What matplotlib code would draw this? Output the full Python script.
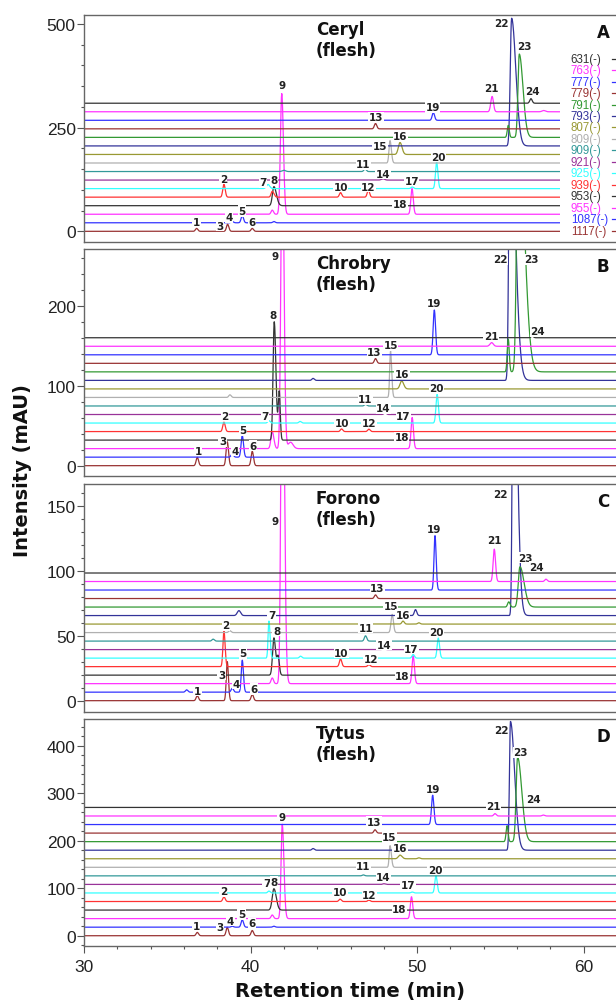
import numpy as np
import matplotlib.pyplot as plt
from matplotlib.ticker import MultipleLocator
from matplotlib.patches import Rectangle

# m/z traces, bottom to top
mz = ['1117', '1087', '955', '953', '939', '925', '921', '909',
      '809', '807', '793', '791', '779', '777', '763', '631']
colors = {'1117': '#993333', '1087': '#3333ff', '955': '#ff33ff', '953': '#333333',
          '939': '#ff3333', '925': '#33ffff', '921': '#993399', '909': '#339999',
          '809': '#b0b0b0', '807': '#999933', '793': '#333399', '791': '#339933',
          '779': '#993333', '777': '#3333ff', '763': '#ff33ff', '631': '#333333'}

cultivars = ['Ceryl', 'Chrobry', 'Forono', 'Tytus']
panel_tags = ['A', 'B', 'C', 'D']
offsets = [20.6, 10.67, 6.55, 18.0]   # vertical stacking step (mAU)

# peaks: (trace, retention time, height, sigma left, sigma right)
peaks_A = [
    ('1117', 36.76, 7), ('1117', 38.62, 17), ('1117', 40.1, 7),
    ('1087', 38.9, 3), ('1087', 39.5, 17), ('1087', 41.4, 3),
    ('955', 41.3, 10), ('955', 41.87, 291, 0.08, 0.1), ('955', 49.69, 62),
    ('953', 41.4, 46, 0.09, 0.15),
    ('939', 38.4, 31), ('939', 41.3, 14, 0.07, 0.1), ('939', 45.4, 11), ('939', 47.07, 17),
    ('925', 41.05, 10, 0.1, 0.1), ('925', 49.7, 4), ('925', 51.17, 64),
    ('921', 47.95, 3, 0.1, 0.1),
    ('909', 46.87, 6), ('909', 42.0, 3, 0.1, 0.1),
    ('809', 48.37, 54, 0.06, 0.08),
    ('807', 48.97, 29, 0.1, 0.12),
    ('793', 55.67, 308, 0.08, 0.25),
    ('791', 55.47, 29, 0.06, 0.06), ('791', 56.13, 201, 0.08, 0.22),
    ('779', 47.5, 13),
    ('777', 50.97, 18.5),
    ('763', 54.5, 37, 0.08, 0.08), ('763', 57.6, 3, 0.1, 0.1),
    ('631', 56.83, 11),
]
peaks_B = [
    ('1117', 36.8, 10.4), ('1117', 38.6, 30), ('1117', 40.1, 18),
    ('1087', 38.9, 4), ('1087', 39.5, 27),
    ('955', 41.3, 21, 0.08, 0.1), ('955', 41.9, 400, 0.08, 0.1), ('955', 42.4, 8, 0.15, 0.15),
    ('955', 49.7, 39),
    ('953', 41.42, 148, 0.07, 0.1), ('953', 41.72, 60, 0.06, 0.06),
    ('939', 38.4, 11.7), ('939', 45.46, 3.3), ('939', 47.1, 3),
    ('925', 41.1, 3), ('925', 42.97, 2), ('925', 51.2, 36),
    ('921', 48.07, 2),
    ('909', 46.9, 2),
    ('809', 38.76, 3.3), ('809', 48.4, 58, 0.05, 0.07),
    ('807', 49.07, 10, 0.1, 0.12),
    ('793', 43.75, 2.5), ('793', 55.57, 350, 0.07, 0.3),
    ('791', 55.47, 41, 0.06, 0.06), ('791', 56.07, 320, 0.1, 0.35),
    ('779', 47.5, 6),
    ('777', 51.03, 56),
    ('763', 54.47, 4.6, 0.1, 0.1),
    ('631', 56.9, 2),
]
peaks_C = [
    ('1117', 36.8, 3.8), ('1117', 38.6, 30, 0.06, 0.07), ('1117', 40.1, 4.9),
    ('1087', 36.16, 1.8), ('1087', 38.9, 3), ('1087', 39.5, 24.6, 0.06, 0.07),
    ('955', 41.3, 4.4), ('955', 41.9, 300, 0.08, 0.12), ('955', 49.76, 21.5),
    ('953', 41.4, 28.7, 0.08, 0.1), ('953', 41.65, 14),
    ('939', 38.4, 27.4, 0.06, 0.07), ('939', 45.4, 5.9), ('939', 47.1, 1.5),
    ('925', 41.1, 28.5, 0.05, 0.07), ('925', 43.0, 1.5), ('925', 49.76, 2.8), ('925', 51.27, 15.4),
    ('921', 48.0, 1),
    ('909', 37.75, 1.5), ('909', 46.9, 4.1),
    ('809', 38.75, 1.5), ('809', 48.5, 14),
    ('807', 49.15, 2.3), ('807', 50.1, 1),
    ('793', 39.3, 3.8, 0.1, 0.1), ('793', 49.9, 4.6), ('793', 55.77, 250, 0.06, 0.22),
    ('791', 55.5, 4), ('791', 56.17, 31, 0.1, 0.25),
    ('779', 47.5, 2.8),
    ('777', 51.07, 41.8, 0.06, 0.07),
    ('763', 54.63, 24.9), ('763', 57.73, 1.8),
]
peaks_D = [
    ('1117', 36.8, 7), ('1117', 38.6, 17.5), ('1117', 40.1, 11),
    ('1087', 38.9, 2), ('1087', 39.5, 15.4), ('1087', 41.4, 2),
    ('955', 41.3, 7.7), ('955', 41.9, 198.6, 0.07, 0.1), ('955', 49.66, 46),
    ('953', 41.4, 45, 0.1, 0.14),
    ('939', 38.4, 9.8), ('939', 45.37, 5), ('939', 47.1, 2.8),
    ('925', 41.1, 4), ('925', 49.7, 2), ('925', 51.13, 35.8),
    ('921', 48.0, 1.5),
    ('909', 46.77, 2),
    ('809', 48.37, 45.6, 0.05, 0.08),
    ('807', 48.97, 7.7, 0.1, 0.12), ('807', 50.1, 2),
    ('793', 43.75, 3.5), ('793', 55.6, 271, 0.06, 0.25),
    ('791', 55.4, 33.7, 0.06, 0.06), ('791', 56.03, 177.5, 0.09, 0.25),
    ('779', 47.47, 7),
    ('777', 50.93, 61.8),
    ('763', 54.67, 5), ('763', 57.57, 2),
]
all_peaks = [peaks_A, peaks_B, peaks_C, peaks_D]

# peak number labels (text, x, y) in data units
labels_A = [('1', 36.76, 23), ('2', 38.36, 127), ('3', 38.16, 13), ('4', 38.72, 34),
            ('5', 39.5, 49), ('6', 40.1, 23), ('7', 40.76, 118), ('8', 41.4, 123),
            ('9', 41.86, 352), ('10', 45.41, 108), ('11', 46.77, 162), ('12', 47.07, 108),
            ('13', 47.53, 275), ('14', 47.93, 139), ('15', 47.77, 206), ('16', 49.0, 229),
            ('17', 49.67, 122), ('18', 48.97, 65), ('19', 50.93, 299), ('20', 51.27, 180),
            ('21', 54.47, 345), ('22', 55.07, 502), ('23', 56.41, 448), ('24', 56.93, 339)]
labels_B = [('1', 36.86, 19), ('2', 38.46, 62.5), ('3', 38.32, 30.5), ('4', 39.06, 19),
            ('5', 39.56, 44.6), ('6', 40.16, 25), ('7', 40.86, 61.7), ('8', 41.36, 188),
            ('9', 41.48, 262), ('10', 45.5, 54), ('11', 46.9, 83), ('12', 47.1, 54),
            ('13', 47.43, 142), ('14', 47.97, 72), ('15', 48.41, 151), ('16', 49.09, 115),
            ('17', 49.17, 62.5), ('18', 49.07, 35.5), ('19', 51.03, 203), ('20', 51.17, 97),
            ('21', 54.43, 162.5), ('22', 54.97, 258), ('23', 56.83, 258), ('24', 57.23, 168)]
labels_C = [('1', 36.82, 7.7), ('2', 38.52, 58), ('3', 38.26, 20), ('4', 39.12, 13),
            ('5', 39.56, 36.5), ('6', 40.2, 9), ('7', 41.26, 66), ('8', 41.56, 54),
            ('9', 41.48, 138), ('10', 45.46, 37), ('11', 46.91, 56), ('12', 47.21, 32),
            ('13', 47.62, 87), ('14', 48.0, 43), ('15', 48.41, 73), ('16', 49.13, 66),
            ('17', 49.66, 40), ('18', 49.11, 19), ('19', 51.01, 132), ('20', 51.17, 53),
            ('21', 54.63, 124), ('22', 54.97, 159), ('23', 56.47, 110), ('24', 57.17, 103)]
labels_D = [('1', 36.72, 21), ('2', 38.36, 93.5), ('3', 38.16, 17.5), ('4', 38.8, 31.6),
            ('5', 39.46, 45.7), ('6', 40.08, 26), ('7', 40.96, 110), ('8', 41.4, 114),
            ('9', 41.86, 249), ('10', 45.37, 91), ('11', 46.77, 147), ('12', 47.13, 86),
            ('13', 47.41, 240), ('14', 47.97, 123), ('15', 48.33, 207), ('16', 48.97, 184),
            ('17', 49.43, 107), ('18', 48.93, 56), ('19', 50.93, 309), ('20', 51.07, 139),
            ('21', 54.57, 272), ('22', 55.03, 434), ('23', 56.21, 386), ('24', 57.01, 288)]
all_labels = [labels_A, labels_B, labels_C, labels_D]

ylims = [(-25.8, 522.4), (-13.3, 271), (-8.5, 166.7), (-22.3, 456)]
yticks_major = [250, 100, 50, 100]
yticks_minor = [50, 20, 10, 20]

# axes boxes [left, bottom, width, height] in figure fraction
boxes = [[0.1364, 0.7577, 0.8653, 0.2266],
         [0.1364, 0.5241, 0.8653, 0.2266],
         [0.1364, 0.2894, 0.8653, 0.2270],
         [0.1364, 0.0555, 0.8653, 0.2266]]


def peak(x, rt, h, sl=0.07, sr=0.075):
    s = np.where(x < rt, sl, sr)
    return h * np.exp(-0.5 * ((x - rt) / s) ** 2)


t = np.linspace(30, 62, 3201)

fig = plt.figure(figsize=(6.16, 10.03), dpi=100)

for k in range(4):
    ax = fig.add_axes(boxes[k])
    for i, m in enumerate(mz):
        y = np.full_like(t, i * offsets[k])
        for p in all_peaks[k]:
            if p[0] == m:
                y = y + peak(t, *p[1:])
        ax.plot(t, y, color=colors[m], lw=0.9, zorder=2)

    for txt, x, yy in all_labels[k]:
        ax.text(x, yy, txt, fontsize=7.5, fontweight='bold', color='#222222',
                ha='center', va='center', zorder=4,
                bbox=dict(facecolor='white', edgecolor='none', pad=0.4))

    ax.text(0.435, 0.978, cultivars[k] + '\n(flesh)', transform=ax.transAxes,
            fontsize=12, fontweight='bold', color='#111111', ha='left', va='top',
            linespacing=1.2, zorder=6)
    ax.text(61.15, ylims[k][0] + 0.925 * (ylims[k][1] - ylims[k][0]), panel_tags[k],
            fontsize=12, fontweight='bold', color='#111111', ha='center', va='center', zorder=6)

    ax.set_xlim(30, 62)
    ax.set_ylim(*ylims[k])
    ax.yaxis.set_major_locator(MultipleLocator(yticks_major[k]))
    ax.yaxis.set_minor_locator(MultipleLocator(yticks_minor[k]))
    ax.tick_params(axis='y', which='major', length=5, width=0.8, pad=1,
                   labelsize=12.5, colors='#555555', labelcolor='#222222')
    ax.tick_params(axis='y', which='minor', length=2.5, width=0.8, colors='#555555')
    for s in ax.spines.values():
        s.set_color('#666666')
        s.set_linewidth(1.0)
    for lab in ax.get_yticklabels():
        lab.set_family('Liberation Sans')

    if k == 3:
        ax.xaxis.set_major_locator(MultipleLocator(10))
        ax.xaxis.set_minor_locator(MultipleLocator(2))
        ax.tick_params(axis='x', which='major', length=5, width=0.8, pad=4,
                       labelsize=12.5, colors='#555555', labelcolor='#222222')
        ax.tick_params(axis='x', which='minor', length=2.5, width=0.8, colors='#555555')
        for lab in ax.get_xticklabels():
            lab.set_family('Liberation Sans')
    else:
        ax.tick_params(axis='x', which='both', bottom=False, labelbottom=False)

    if k == 0:
        # key of m/z traces: white box over the right end, text then line sample
        ax.add_patch(Rectangle((0.893, 0.012), 0.2, 0.865, transform=ax.transAxes,
                               facecolor='white', edgecolor='none', zorder=5))
        for j, m in enumerate(mz[::-1]):
            yk = 0.807 - j * 0.0505
            ax.text(0.913, yk, m + '(-)', transform=ax.transAxes, color=colors[m],
                    fontsize=8.3, family='Liberation Sans', ha='left', va='center', zorder=6)
            ax.plot([0.99, 1.06], [yk, yk], transform=ax.transAxes, color=colors[m],
                    lw=0.9, clip_on=False, zorder=6)

fig.text(0.0373, 0.531, 'Intensity (mAU)', rotation=90, fontsize=14,
         fontweight='bold', color='#111111', ha='center', va='center')
fig.text(0.568, 0.011, 'Retention time (min)', fontsize=14,
         fontweight='bold', color='#111111', ha='center', va='center')

fig.savefig('out.png', dpi=100)
